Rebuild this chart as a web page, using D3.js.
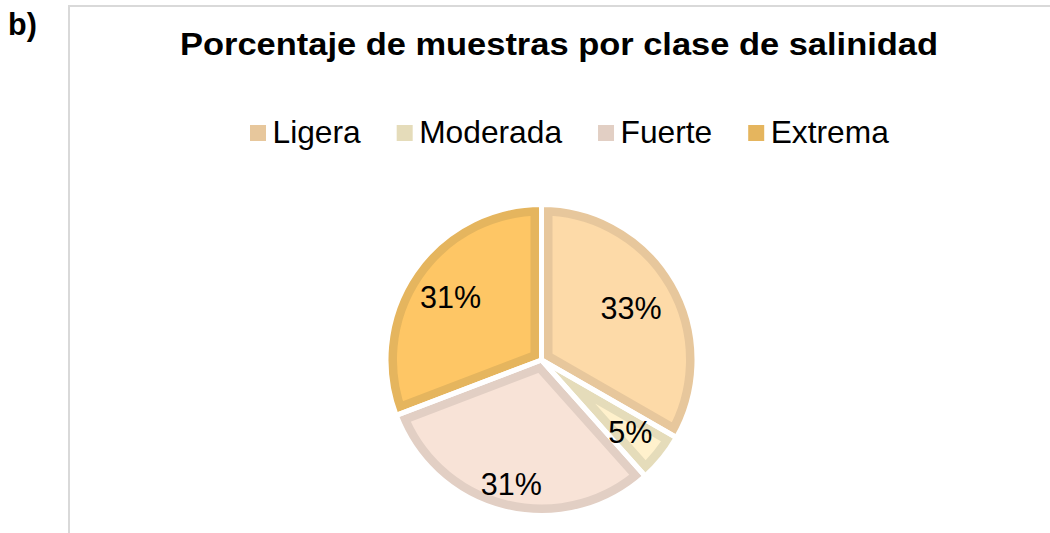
<!DOCTYPE html>
<html>
<head>
<meta charset="utf-8">
<script src="https://cdn.jsdelivr.net/npm/d3@7"></script>
<style>
  html, body { margin: 0; padding: 0; background: #fff; }
  svg { display: block; font-family: "Liberation Sans", Arial, sans-serif; }
</style>
</head>
<body>
<svg id="chart" width="1050" height="533"></svg>
<script>
// ---- data ----
const categories = ["Ligera", "Moderada", "Fuerte", "Extrema"];
const values = [33.3, 5.1, 30.8, 30.8];           // % of samples
const labels = ["33%", "5%", "31%", "31%"];
const fillColors = ["#FDDAA8", "#FFF1CC", "#F8E3D7", "#FEC665"];
const borderColors = ["#E7C79C", "#E5DCBA", "#E2CFC4", "#E5B55E"];
// layout (best-fit label distance as fraction of radius)
const labelRadiusFactor = [0.665, 0.735, 0.82, 0.71];

const svg = d3.select("#chart");

// chart area border
svg.append("rect")
  .attr("x", 69).attr("y", 6)
  .attr("width", 1100).attr("height", 600)
  .attr("fill", "#fff").attr("stroke", "#D9D9D9").attr("stroke-width", 2);

// panel label
svg.append("text")
  .attr("x", 8).attr("y", 35)
  .attr("font-size", 30.5).attr("font-weight", "bold")
  .attr("fill", "#000")
  .text("b)");

// title (glyphs slightly widened as in the reference)
const title = svg.append("text")
  .attr("x", 180).attr("y", 55)
  .attr("font-size", 31.5).attr("font-weight", "bold")
  .attr("fill", "#000")
  .text("Porcentaje de muestras por clase de salinidad");
title.attr("textLength", 938 - 180).attr("lengthAdjust", "spacingAndGlyphs");

// legend
const legend = svg.append("g");
let lx = 250;
const hStretch = 1.04;
categories.forEach((c, i) => {
  legend.append("rect")
    .attr("x", lx).attr("y", 125)
    .attr("width", 16).attr("height", 16)
    .attr("fill", borderColors[i]);
  const t = legend.append("text")
    .attr("x", lx + 22.5).attr("y", 143)
    .attr("font-size", 30.5).attr("fill", "#000")
    .text(c);
  const w = t.node().getComputedTextLength() * hStretch;
  t.attr("textLength", w).attr("lengthAdjust", "spacingAndGlyphs");
  lx += 22.5 + w + 36;
});

// pie
const cx = 541.5, cy = 360, R = 155.5;
const pie = d3.pie().sort(null).value(d => d)(values);
const arc = d3.arc().innerRadius(0).outerRadius(R);
const g = svg.append("g").attr("transform", `translate(${cx},${cy})`);
const defs = svg.append("defs");

pie.forEach((d, i) => {
  const path = arc(d);
  defs.append("clipPath").attr("id", "clip" + i)
    .append("path").attr("d", path);
  g.append("path")
    .attr("d", path)
    .attr("fill", fillColors[i])
    .attr("stroke", borderColors[i])
    .attr("stroke-width", 22)
    .attr("stroke-linejoin", "miter")
    .attr("clip-path", `url(#clip${i})`);
});
pie.forEach((d, i) => {
  g.append("path")
    .attr("d", arc(d))
    .attr("fill", "none")
    .attr("stroke", "#fff")
    .attr("stroke-width", 5)
    .attr("stroke-linejoin", "round");
});

// data labels
pie.forEach((d, i) => {
  const a = (d.startAngle + d.endAngle) / 2;
  const r = R * labelRadiusFactor[i];
  g.append("text")
    .attr("x", r * Math.sin(a))
    .attr("y", -r * Math.cos(a))
    .attr("dy", "0.36em")
    .attr("text-anchor", "middle")
    .attr("font-size", 30.5)
    .attr("fill", "#000")
    .text(labels[i]);
});
</script>
</body>
</html>
